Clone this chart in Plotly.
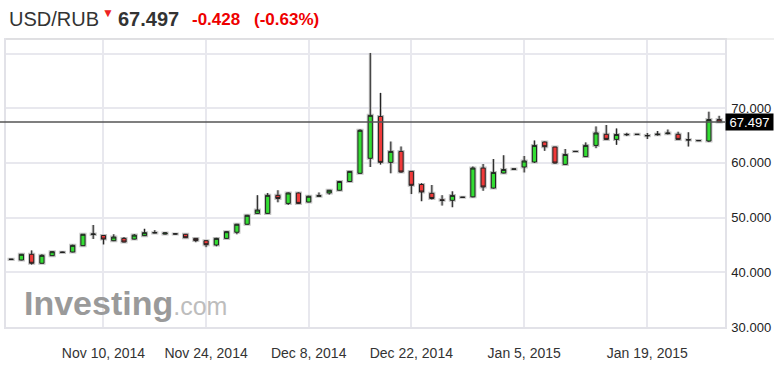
import plotly.graph_objects as go

dates = [
    "2014-10-28", "2014-10-29", "2014-10-30", "2014-10-31", "2014-11-03", "2014-11-04", "2014-11-05",
    "2014-11-06", "2014-11-07", "2014-11-10", "2014-11-11", "2014-11-12", "2014-11-13", "2014-11-14",
    "2014-11-17", "2014-11-18", "2014-11-19", "2014-11-20", "2014-11-21", "2014-11-24", "2014-11-25",
    "2014-11-26", "2014-11-27", "2014-11-28", "2014-12-01", "2014-12-02", "2014-12-03", "2014-12-04",
    "2014-12-05", "2014-12-08", "2014-12-09", "2014-12-10", "2014-12-11", "2014-12-12", "2014-12-15",
    "2014-12-16", "2014-12-17", "2014-12-18", "2014-12-19", "2014-12-22", "2014-12-23", "2014-12-24",
    "2014-12-25", "2014-12-26", "2014-12-28", "2014-12-29", "2014-12-30", "2014-12-31", "2015-01-02",
    "2015-01-04", "2015-01-05", "2015-01-06", "2015-01-07", "2015-01-08", "2015-01-09", "2015-01-11",
    "2015-01-12", "2015-01-13", "2015-01-14", "2015-01-15", "2015-01-16", "2015-01-18", "2015-01-19",
    "2015-01-20", "2015-01-21", "2015-01-22", "2015-01-23", "2015-01-26", "2015-01-27", "2015-01-28",
]

opens = [
    42.35, 42.25, 43.29, 41.65, 43.04, 43.62, 43.71, 44.87, 46.90, 46.73,
    45.78, 46.20, 46.07, 46.70, 47.20, 47.00, 47.00, 46.95, 46.20, 45.78,
    44.99, 46.20, 47.32, 48.78, 50.77, 50.77, 54.07, 52.60, 54.50, 52.85,
    53.90, 54.50, 55.00, 56.60, 58.10, 60.84, 68.50, 60.10, 62.10, 58.45,
    56.05, 54.44, 53.25, 53.16, 53.70, 53.80, 59.06, 55.40, 58.15, 58.85,
    59.25, 60.16, 63.82, 62.90, 59.73, 62.08, 61.15, 63.20, 65.23, 64.30,
    65.15, 65.20, 64.95, 65.15, 65.35, 65.23, 64.25, 64.07, 64.00, 67.925,
]
highs = [
    42.45, 43.35, 44.00, 43.30, 43.85, 43.75, 45.05, 47.00, 48.65, 46.80,
    46.95, 46.45, 47.00, 47.95, 47.70, 47.35, 47.10, 47.00, 46.25, 45.85,
    46.30, 47.50, 48.85, 50.50, 54.10, 54.50, 55.00, 54.60, 54.60, 54.00,
    54.60, 55.05, 56.70, 58.50, 66.15, 80.10, 72.80, 63.90, 63.00, 58.50,
    56.30, 55.96, 54.10, 54.80, 53.75, 59.36, 59.80, 60.70, 61.40, 58.90,
    61.26, 64.10, 63.90, 62.95, 62.54, 62.12, 63.75, 66.67, 66.93, 66.30,
    65.50, 65.25, 65.47, 65.83, 66.10, 65.70, 65.60, 64.10, 69.36, 68.60,
]
lows = [
    42.30, 42.20, 41.40, 41.60, 43.00, 43.60, 43.65, 44.80, 46.10, 45.10,
    45.70, 45.45, 46.00, 46.65, 47.15, 46.90, 46.95, 46.30, 45.50, 44.60,
    44.75, 46.10, 46.95, 48.70, 50.70, 50.70, 52.80, 52.30, 52.50, 52.80,
    53.85, 54.20, 54.95, 56.50, 58.00, 59.25, 59.70, 58.10, 58.20, 54.30,
    53.00, 53.30, 52.20, 51.90, 53.68, 53.70, 54.90, 55.30, 58.10, 58.83,
    58.26, 60.00, 62.20, 59.85, 59.65, 62.05, 61.10, 62.70, 64.20, 63.30,
    64.90, 65.18, 64.37, 65.00, 65.20, 64.20, 63.00, 64.05, 63.80, 67.45,
]
closes = [
    42.38, 43.29, 41.65, 43.10, 43.77, 43.68, 44.93, 46.95, 47.00, 46.07,
    46.45, 45.54, 46.80, 47.25, 47.25, 47.20, 47.02, 46.33, 45.80, 45.05,
    46.20, 47.43, 48.78, 50.42, 51.39, 54.07, 53.50, 54.50, 52.60, 53.90,
    54.00, 55.00, 56.60, 58.45, 65.96, 68.70, 60.10, 62.10, 58.34, 55.90,
    54.68, 53.50, 53.15, 54.06, 53.72, 59.06, 55.60, 58.26, 58.80, 58.88,
    60.35, 63.20, 62.96, 59.98, 61.54, 62.10, 63.20, 65.47, 64.30, 65.20,
    65.20, 65.22, 65.00, 65.25, 65.45, 64.30, 64.20, 64.08, 67.925, 67.497,
]

tick_dates = ["2014-11-10", "2014-11-24", "2014-12-08", "2014-12-22", "2015-01-05", "2015-01-19"]
tick_labels = ["Nov 10, 2014", "Nov 24, 2014", "Dec 8, 2014", "Dec 22, 2014", "Jan 5, 2015", "Jan 19, 2015"]
y_ticks = [30, 40, 50, 60, 70, 80]
y_labels = ["30.000", "40.000", "50.000", "60.000", "70.000", ""]
last_price = 67.497
change = "-0.428"
change_pct = "(-0.63%)"
pair = "USD/RUB"

FONT = "Liberation Sans, Arial, sans-serif"
W, H = 774, 371
ML, MR, MT, MB = 6, 49, 40, 44
PW = W - ML - MR
PH = H - MT - MB


def px(x):
    return (x - ML) / PW


def py(y):
    return (H - MB - y) / PH


fig = go.Figure()
# soft halo under candles
fig.add_trace(go.Candlestick(
    x=dates, open=opens, high=highs, low=lows, close=closes,
    increasing=dict(line=dict(color="#c4c4c4", width=3), fillcolor="#c4c4c4"),
    decreasing=dict(line=dict(color="#c4c4c4", width=3), fillcolor="#c4c4c4"),
    showlegend=False, hoverinfo="skip",
))
fig.add_trace(go.Candlestick(
    x=dates, open=opens, high=highs, low=lows, close=closes,
    increasing=dict(line=dict(color="#222222", width=1), fillcolor="#33dd33"),
    decreasing=dict(line=dict(color="#222222", width=1), fillcolor="#f03a3a"),
    showlegend=False,
))

shapes = [
    dict(type="line", xref="paper", yref="y", x0=px(0), x1=1, y0=last_price, y1=last_price,
         line=dict(color="#555555", width=1.5)),
    dict(type="line", xref="paper", yref="paper", x0=px(6), x1=px(774), y0=py(39), y1=py(39),
         line=dict(color="#dddddd", width=1)),
]

annotations = [
    dict(text=pair, x=px(7), y=py(19), xref="paper", yref="paper", xanchor="left", yanchor="middle",
         showarrow=False, font=dict(family=FONT, size=20, color="#333333")),
    dict(text="▼", x=px(107.5), y=py(13), xref="paper", yref="paper", xanchor="center", yanchor="middle",
         showarrow=False, font=dict(family=FONT, size=12, color="#ee2222")),
    dict(text="<b>%.3f</b>" % last_price, x=px(116), y=py(19), xref="paper", yref="paper",
         xanchor="left", yanchor="middle", showarrow=False,
         font=dict(family=FONT, size=20, color="#333333")),
    dict(text="<b>%s</b>" % change, x=px(190), y=py(19.5), xref="paper", yref="paper",
         xanchor="left", yanchor="middle", showarrow=False,
         font=dict(family=FONT, size=17, color="#ee0000")),
    dict(text="<b>%s</b>" % change_pct, x=px(252), y=py(19.5), xref="paper", yref="paper",
         xanchor="left", yanchor="middle", showarrow=False,
         font=dict(family=FONT, size=17, color="#ee0000")),
    dict(text="<b>Investing</b><span style='color:#bdbdbd;font-size:25px'>.com</span>",
         x=px(22), y=py(303), xref="paper", yref="paper", xanchor="left", yanchor="middle",
         showarrow=False, font=dict(family=FONT, size=34, color="#9a9a9a")),
    dict(text="%.3f" % last_price, x=1, y=last_price, xref="paper", yref="y",
         xanchor="left", yanchor="middle", showarrow=False, bgcolor="#000000",
         width=45, height=14, borderpad=1, align="center",
         font=dict(family=FONT, size=13, color="#ffffff")),
]

fig.update_layout(
    width=W, height=H, margin=dict(l=ML, r=MR, t=MT, b=MB, autoexpand=False),
    paper_bgcolor="white", plot_bgcolor="white",
    font=dict(family=FONT, color="#333333"),
    boxgap=0.42,
    shapes=shapes, annotations=annotations,
    xaxis=dict(type="category", range=[-0.5, 69.57], rangeslider=dict(visible=False),
               tickmode="array", tickvals=tick_dates, ticktext=tick_labels,
               showgrid=True, gridcolor="#e8e8ee", gridwidth=1.5,
               showline=True, linecolor="#e2e2e8", linewidth=2, mirror=True,
               ticks="", ticklabelstandoff=12, tickfont=dict(size=14, color="#333333"),
               automargin=False, fixedrange=True),
    yaxis=dict(side="right", range=[30, 82.47], tickmode="array", tickvals=y_ticks, ticktext=y_labels,
               showgrid=True, gridcolor="#e8e8ee", gridwidth=1.5,
               showline=True, linecolor="#e2e2e8", linewidth=1.5, mirror=True,
               ticks="", ticklabelstandoff=2, tickfont=dict(size=13, color="#222222"),
               zeroline=False, automargin=False, fixedrange=True),
)

fig.write_html("out.html")
